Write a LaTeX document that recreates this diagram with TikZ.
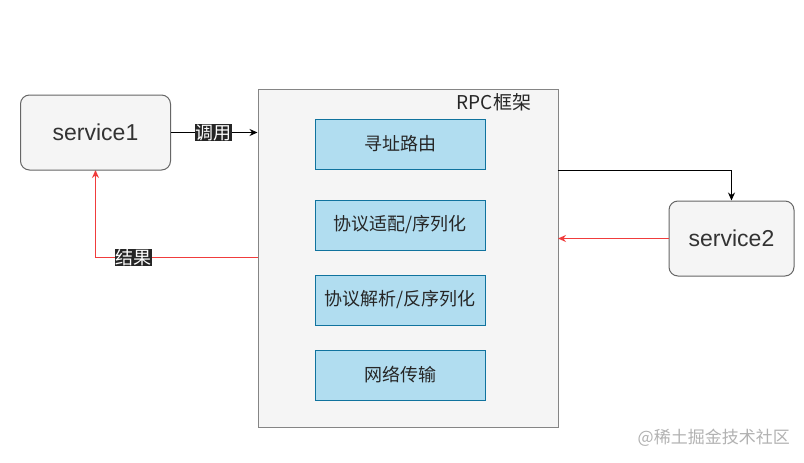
\documentclass[tikz,border=0pt]{standalone}
\usepackage{fontspec}
\setmainfont{Liberation Sans}
\newfontfamily\cjk{Noto Sans CJK SC}
\usetikzlibrary{arrows.meta}
\definecolor{svcfill}{HTML}{F5F5F5}
\definecolor{svcdraw}{HTML}{666666}
\definecolor{boxfill}{HTML}{B1DDF0}
\definecolor{boxdraw}{HTML}{10739E}
\definecolor{txt}{HTML}{333333}
\definecolor{redline}{HTML}{F03C3C}
\tikzset{
  svc/.style={draw=svcdraw, fill=svcfill, rounded corners=9pt, line width=1pt, text=txt, font=\fontsize{23}{27}\selectfont, inner sep=0pt},
  inner/.style={draw=boxdraw, fill=boxfill, line width=1pt, minimum width=170pt, minimum height=50pt, inner sep=0pt, font=\cjk\fontsize{18}{22}\selectfont, text=black!85},
  frame/.style={draw=svcdraw!80, fill=svcfill, line width=1pt},
  lbl/.style={fill=black!85, text=white, font=\cjk\fontsize{18}{22}\selectfont, inner sep=0.5pt},
  arr/.style={-{Stealth[length=8pt,width=7pt]}, line width=1pt},
  redarr/.style={arr, line width=1.4pt, draw=redline, fill=redline},
  redln/.style={line width=1.4pt, draw=redline},
}
\begin{document}
\begin{tikzpicture}[x=1pt,y=-1pt]
\useasboundingbox (0,0) rectangle (804,463);
\fill[white] (0,0) rectangle (804,463);
% coordinates
\coordinate (c1) at (257.5,132.5);
\coordinate (c2) at (557.5,170.5);
\coordinate (c3) at (731.5,170.5);
\coordinate (c4) at (558,238.5);
\coordinate (c5) at (257.5,257.5);
\coordinate (c6) at (95.5,257.5);
\coordinate (c7) at (95.5,170);
% red return path first
\draw[redln] (c5) -- (c6);
\draw[redarr] (c6) -- (c7);
% frame
\node[frame, minimum width=300pt, minimum height=338pt, anchor=north west, inner sep=0pt] (rpc) at (257.5,88.5) {};
\node[font=\cjk\fontsize{19}{22}\selectfont, text=black!85, inner sep=0pt] (rpclbl) at (494,102) {RPC框架};
\node[inner] (b1) at (400,144) {寻址路由};
\node[inner] (b2) at (400,225) {协议适配/序列化};
\node[inner] (b3) at (400,300) {协议解析/反序列化};
\node[inner] (b4) at (400,375) {网络传输};
% services
\node[svc, minimum width=150pt, minimum height=75pt] (s1) at (95.5,132.5) {service1};
\node[svc, minimum width=125pt, minimum height=75pt] (s2) at (731.5,238.5) {service2};
% arrows
\draw[redarr] (s2.west) -- (c4);
\draw[arr] (c2) -- (c3) -- (s2.north);
\draw[arr] (s1.east) -- (c1);
\node[lbl] (call) at (213,132.5) {调用};
\node[lbl] (res) at (133,257.5) {结果};
% watermark
\node[font=\cjk\fontsize{17}{20}\selectfont, text=black!30, anchor=east, inner sep=0pt] (wm) at (790,438) {@稀土掘金技术社区};
\end{tikzpicture}
\end{document}
